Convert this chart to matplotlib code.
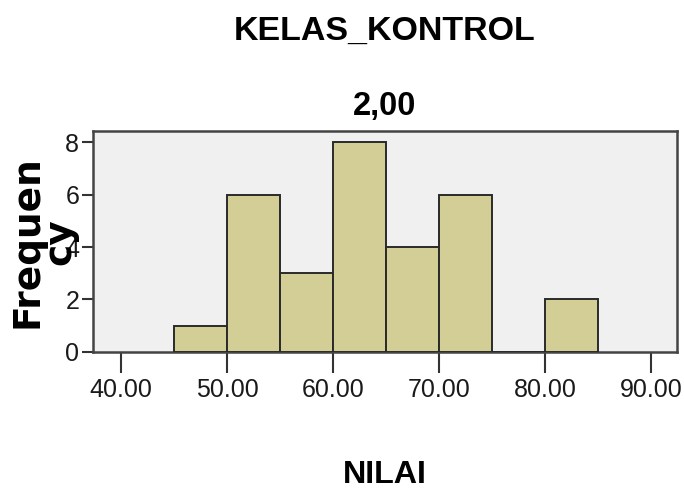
import numpy as np
import matplotlib
matplotlib.use('Agg')
import matplotlib.pyplot as plt

# histogram of NILAI for KELAS_KONTROL = 2,00
bin_left = [45, 50, 55, 60, 65, 70, 75, 80]
counts = [1, 6, 3, 8, 4, 6, 0, 2]
bin_width = 5
xticks = [40, 50, 60, 70, 80, 90]
yticks = [0, 2, 4, 6, 8]

FONT = 'Liberation Sans'

fig = plt.figure(figsize=(6.84, 4.99), dpi=100)
ax = fig.add_axes([0.136, 0.2946, 0.990 - 0.136, 0.7375 - 0.2946])
ax.set_facecolor('#f0f0f0')

ax.bar(bin_left, counts, width=bin_width, align='edge', color='#d3ce96',
       edgecolor='#2a2a2a', linewidth=1.4, zorder=3)

ax.set_xlim(37.36, 92.45)
ax.set_ylim(0, 8.42)
ax.set_xticks(xticks)
ax.set_xticklabels(['%.2f' % v for v in xticks])
ax.set_yticks(yticks)

for lab in ax.get_xticklabels() + ax.get_yticklabels():
    lab.set_fontfamily(FONT)
    lab.set_fontsize(18)
    lab.set_color('#1a1a1a')
ax.tick_params(axis='x', length=15, width=1.5, color='#333333', pad=4)
ax.tick_params(axis='y', length=8, width=1.5, color='#333333', pad=2)
for s in ax.spines.values():
    s.set_color('#444444')
    s.set_linewidth(1.8)

t1 = fig.text(385 / 684, 1 - 31 / 499, 'KELAS_KONTROL', ha='center', va='center',
              fontfamily=FONT, fontweight='bold', fontsize=25)
t2 = fig.text(385 / 684, 1 - 107 / 499, '2,00', ha='center', va='center',
              fontfamily=FONT, fontweight='bold', fontsize=24)
t3 = fig.text(385 / 684, 1 - 475 / 499, 'NILAI', ha='center', va='center',
              fontfamily=FONT, fontweight='bold', fontsize=23.5)
fig.text(44 / 684, 1 - 242 / 499, 'Frequen\ncy', ha='center', va='center',
         rotation=90, multialignment='center', linespacing=0.9,
         fontfamily='DejaVu Sans', fontweight='bold', fontsize=27)

# fit title widths to the reference pixel widths
r = fig.canvas.get_renderer()
for t, w in [(t1, 303), (t2, 64), (t3, 84)]:
    cur = t.get_window_extent(renderer=r).width
    t.set_fontsize(t.get_fontsize() * w / cur)

fig.savefig('out.png', dpi=100)
